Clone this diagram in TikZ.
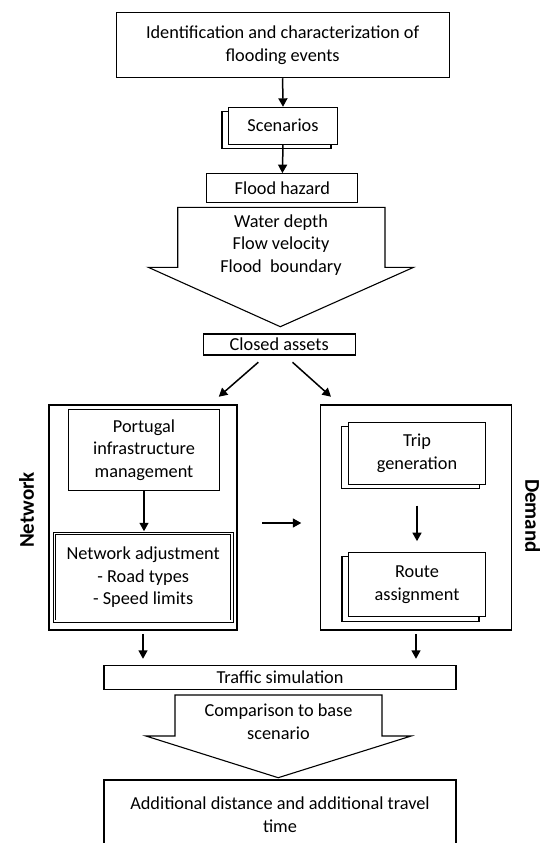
\documentclass[tikz,border=0pt]{standalone}
\usepackage{fontspec}
\setmainfont{Carlito}
\usetikzlibrary{calc,shadows,arrows.meta}

\begin{document}
\begin{tikzpicture}[x=1pt,y=-1pt,
	box/.style={draw,line width=1.1pt,fill=white,align=center,inner sep=0pt,font=\fontsize{18.3}{22.5}\selectfont},
	stackbox/.style={box,copy shadow={shadow xshift=-6.5pt,shadow yshift=-4.5pt,draw=black,fill=white,line width=1.1pt}},
	groupbox/.style={draw,line width=1.1pt,inner sep=0pt},
	plain/.style={align=center,inner sep=0pt,font=\fontsize{18.3}{22.5}\selectfont},
	side/.style={inner sep=0pt,font=\fontsize{21}{25}\selectfont\bfseries},
	arr/.style={-{Triangle[width=9pt,length=8.5pt]},line width=1.5pt},
	blockarrow/.style={draw,line width=1.1pt,line join=miter}]
		\useasboundingbox (0,0) rectangle (547,843);
		\clip (0,0) rectangle (547,843);
		% top part
		\node[box,minimum width=333pt,minimum height=65pt] (ident) at (282.6,45.2) {Identification and characterization of\\flooding events};
		\node[stackbox,minimum width=109pt,minimum height=36.7pt] (scen) at (283,125.7) {Scenarios};
		\node[box,minimum width=151pt,minimum height=28.6pt] (hazard) at (282.4,188) {Flood hazard};
		\draw[blockarrow] (177.7,207.3) -- (385,207.3) -- (385,267.3) -- (413.6,267.3) -- (280.3,326.7) -- (148.3,267.3) -- (177.7,267.3) -- cycle;
		\node[plain] (hazlist) at (281,245) {Water depth\\Flow velocity\\Flood\ \ boundary};
		\node[box,minimum width=152pt,minimum height=21pt] (closed) at (279.2,344.5) {Closed assets};
		\draw[arr] (ident.south) -- (scen.north);
		\draw[arr] (scen.south) -- (hazard.north);
		% network side
		\node[groupbox,minimum width=188pt,minimum height=225pt] (netbox) at (143,517.5) {};
		\node[box,minimum width=151pt,minimum height=81.4pt] (portugal) at (144,450) {Portugal\\infrastructure\\management};
		\node[box,double,line width=0.8pt,double distance=1.6pt,minimum width=177.5pt,minimum height=87.5pt] (adjust) at (143.2,577.4) {Network adjustment\\- Road types\\- Speed limits};
		\node[side,rotate=90] (netlabel) at (26.7,510) {Network};
		\draw[arr,shorten >=2pt] (portugal.south) -- (portugal.south |- adjust.north);
		% demand side
		\node[groupbox,minimum width=191.3pt,minimum height=225pt] (demandbox) at (416,517.5) {};
		\node[stackbox,minimum width=137.4pt,minimum height=61.7pt] (trip) at (417,453.2) {Trip\\generation};
		\node[stackbox,minimum width=137pt,minimum height=64.4pt] (route) at (417,584.5) {Route\\assignment};
		\node[side,rotate=-90] (demlabel) at (532.7,516) {Demand};
		\draw[arr,shorten <=21pt,shorten >=10.6pt] (trip.south) -- (route.north);
		% links
		\draw[arr] ($(closed.south)+(-20.9,6.7)$) -- ($(netbox.north east)+(-18.8,-7.7)$);
		\draw[arr] ($(closed.south)+(13.3,6.7)$) -- ($(demandbox.north west)+(11.2,-7.7)$);
		\draw[arr,shorten <=24.8pt,shorten >=18.5pt] ($(netbox.east)+(0,5.5)$) -- ($(demandbox.west)+(0,5.5)$);
		% bottom part
		\node[box,minimum width=352pt,minimum height=24.3pt] (traffic) at (280,677.2) {Traffic simulation};
		\draw[arr,shorten <=3.3pt,shorten >=5.7pt] (netbox.south) -- (netbox.south |- traffic.north);
		\draw[arr,shorten <=3.3pt,shorten >=5.7pt] (demandbox.south) -- (demandbox.south |- traffic.north);
		\draw[blockarrow] (175,695) -- (382,695) -- (382,736) -- (411.2,736) -- (278.2,777.7) -- (145.9,736) -- (175,736) -- cycle;
		\node[plain] (compare) at (278.5,721.5) {Comparison to base\\scenario};
		\node[box,minimum width=352pt,minimum height=69.4pt] (result) at (280,814.7) {Additional distance and additional travel\\time};
\end{tikzpicture}
\end{document}
